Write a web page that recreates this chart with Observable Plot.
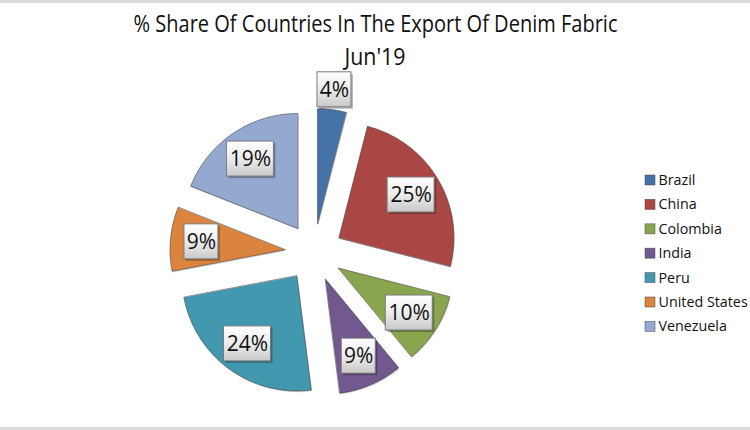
<!DOCTYPE html>
<html><head><meta charset="utf-8">
<script src="https://cdn.jsdelivr.net/npm/d3@7"></script>
<script src="https://cdn.jsdelivr.net/npm/@observablehq/plot@0.6"></script>
<style>
body{margin:0;background:#fff;}
#chart{width:750px;height:424px;border-top:3px solid #d9d9d9;border-bottom:3px solid #d9d9d9;overflow:hidden;background:#fff;}
</style></head><body><div id="chart"></div>
<script>
const countries = ["Brazil","China","Colombia","India","Peru","United States","Venezuela"];
const shares = [4,25,10,9,24,9,19];
const colors = ["#4572A7","#AA4643","#89A54E","#71588F","#4198AF","#DB843D","#93A9CF"];
const titleText = "% Share Of Countries In The Export Of Denim Fabric";
const subtitleText = "Jun'19";

const W = 750, H = 424;
const CX = 313.4, CY = 249, R = 115, EXPLODE = 29;

const total = d3.sum(shares);
let cum = 0;
const slices = countries.map((name, i) => {
  const a0 = cum / total * 2 * Math.PI; cum += shares[i];
  const a1 = cum / total * 2 * Math.PI;
  const mid = (a0 + a1) / 2;
  return {name, value: shares[i], a0, a1, mid,
    ox: CX + EXPLODE * Math.sin(mid), oy: CY - EXPLODE * Math.cos(mid)};
});
const pts = [];
for (const s of slices) {
  pts.push({name: s.name, x: s.ox, y: s.oy});
  const n = Math.max(2, Math.ceil((s.a1 - s.a0) / (Math.PI / 180)));
  for (let k = 0; k <= n; k++) {
    const a = s.a0 + (s.a1 - s.a0) * k / n;
    pts.push({name: s.name, x: s.ox + R * Math.sin(a), y: s.oy - R * Math.cos(a)});
  }
}
const labels = slices.map(s => {
  const d = s.value < 5 ? R + EXPLODE + 20 : 0.73 * R + EXPLODE;
  const text = s.value + "%";
  const w = text.length === 2 ? 34 : 47;
  const x = CX + d * Math.sin(s.mid), y = CY - d * Math.cos(s.mid);
  return {text, x, y, x1: x - w / 2, x2: x + w / 2, y1: y - 17.5, y2: y + 17.5};
});
const legend = countries.map((name, i) => {
  const y = 177 + i * 24.4;
  return {name, y, x1: 645, x2: 655, y1: y - 5, y2: y + 5, tx: 658};
});
const heads = [
  {t: titleText, x: 375, y: 21.3, size: 23},
  {t: subtitleText, x: 374.5, y: 53.9, size: 23}
];

const svg = Plot.plot({
  width: W, height: H, margin: 0,
  x: {domain: [0, W], range: [0, W], axis: null},
  y: {domain: [0, H], range: [0, H], axis: null},
  color: {domain: countries, range: colors},
  style: {fontFamily: "'Open Sans', sans-serif", background: "#fff", overflow: "hidden"},
  marks: [
    Plot.line(pts, {x: "x", y: "y", z: "name", fill: "#000", fillOpacity: 0.15, curve: "linear-closed", dx: 1, dy: 1.2}),
    Plot.line(pts, {x: "x", y: "y", z: "name", fill: "name", stroke: "#3a3a3a", strokeWidth: 0.7, strokeOpacity: 0.8, curve: "linear-closed"}),
    Plot.rect(labels, {x1: "x1", x2: "x2", y1: "y1", y2: "y2", fill: "#000", fillOpacity: 0.28, dx: 2, dy: 2}),
    Plot.rect(labels, {x1: "x1", x2: "x2", y1: "y1", y2: "y2", fill: "url(#lblgrad)", stroke: "#7a7a7a", strokeWidth: 1}),
    Plot.text(labels, {x: "x", y: "y", text: "text", fontSize: 21, fill: "#111"}),
    Plot.rect(legend, {x1: "x1", x2: "x2", y1: "y1", y2: "y2", fill: "name", stroke: "#444", strokeOpacity: 0.6, strokeWidth: 0.8}),
    Plot.text(legend, {x: "tx", y: "y", text: "name", textAnchor: "start", fontSize: 14.3, fill: "#111"}),
    Plot.text(heads, {x: "x", y: "y", text: "t", fontSize: 23, fill: "#111"})
  ]
});
const ns = "http://www.w3.org/2000/svg";
const defs = document.createElementNS(ns, "defs");
defs.innerHTML = '<linearGradient id="lblgrad" x1="0" y1="0" x2="0" y2="1"><stop offset="0" stop-color="#ffffff"/><stop offset="0.5" stop-color="#ececec"/><stop offset="1" stop-color="#c9c9c9"/></linearGradient>';
svg.insertBefore(defs, svg.firstChild);
svg.querySelectorAll("text").forEach(t => {
  if (t.textContent === titleText) { t.setAttribute("textLength", 484); t.setAttribute("lengthAdjust", "spacingAndGlyphs"); }
  if (t.textContent === subtitleText) { t.setAttribute("textLength", 61); t.setAttribute("lengthAdjust", "spacingAndGlyphs"); }
});
document.getElementById("chart").appendChild(svg);
</script></body></html>
